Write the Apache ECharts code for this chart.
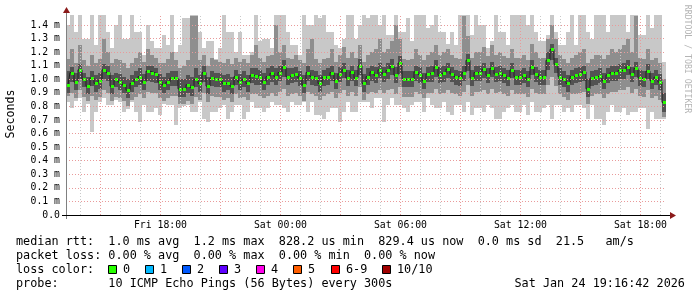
<!DOCTYPE html>
<html><head><meta charset="utf-8">
<script src="https://cdn.jsdelivr.net/npm/echarts@6/dist/echarts.min.js"></script>
<style>html,body{margin:0;padding:0;background:#fff}#c{width:697px;height:297px}</style>
</head><body><div id="c"></div>
<script>
// ---- time frame (hours counted from Fri 00:00) ----
const startHour = 13 + 16/60 + 42/3600;   // Fri 13:16:42
const spanHours = 30;
const stepHours = 0.2;

// ---- data (ms) ----
const median = [0.96,1.05,0.98,1.07,1.00,0.95,1.01,0.97,0.99,1.07,
 1.05,0.95,1.00,0.98,0.96,0.92,0.97,1.00,1.02,0.98,
 1.06,1.05,1.04,0.98,0.96,0.98,1.01,1.01,0.93,0.93,
 0.96,0.94,1.00,0.97,1.05,0.95,1.01,1.00,1.00,0.97,
 0.975,0.95,1.02,0.98,1.00,0.97,1.03,1.025,1.02,0.98,
 1.02,1.045,1.02,1.05,1.09,1.02,1.03,1.04,1.01,0.96,
 1.05,1.02,1.01,0.97,1.015,1.02,1.05,0.99,1.04,1.07,
 1.01,1.055,1.01,1.10,0.97,1.02,1.055,1.03,1.07,1.04,
 1.065,1.10,1.03,1.12,1.00,1.00,1.00,1.055,1.035,0.99,
 1.04,1.045,1.09,1.03,1.045,1.075,1.04,1.02,1.01,1.05,
 1.14,1.01,1.05,1.05,1.075,1.03,1.08,1.04,1.05,1.03,
 1.01,1.07,1.02,1.02,1.03,1.00,1.09,1.04,1.02,1.02,
 1.14,1.22,1.11,1.02,1.00,0.97,1.02,1.03,1.04,1.055,
 0.93,1.01,1.02,1.026,0.99,1.033,1.05,1.05,1.065,1.065,
 1.09,1.04,1.08,1.01,1.00,1.06,0.99,1.016,0.98,0.83];

const outerHigh = [1.40,1.474,1.35,1.474,1.30,1.30,1.474,1.25,1.474,1.474,
 1.35,1.23,1.40,1.474,1.30,1.30,1.474,1.35,1.35,1.18,
 1.40,1.28,1.23,1.23,1.33,1.25,1.474,1.20,1.25,1.45,
 1.45,1.474,1.474,1.35,1.23,1.28,1.28,1.15,1.23,1.474,
 1.35,1.35,1.20,1.35,1.18,1.18,1.20,1.474,1.28,1.30,
 1.30,1.23,1.474,1.474,1.474,1.35,1.25,1.25,1.18,1.474,
 1.40,1.40,1.474,1.45,1.474,1.35,1.35,1.25,1.23,1.30,
 1.474,1.474,1.30,1.40,1.474,1.45,1.474,1.474,1.40,1.474,
 1.33,1.33,1.474,1.35,1.35,1.45,1.28,1.474,1.474,1.474,
 1.38,1.40,1.474,1.35,1.35,1.26,1.35,1.25,1.474,1.474,
 1.474,1.33,1.474,1.40,1.40,1.23,1.28,1.474,1.35,1.35,
 1.25,1.474,1.474,1.474,1.474,1.40,1.474,1.35,1.28,1.28,
 1.33,1.474,1.35,1.25,1.25,1.35,1.474,1.25,1.474,1.474,
 1.35,1.30,1.474,1.474,1.474,1.35,1.474,1.474,1.474,1.474,
 1.35,1.474,1.474,1.33,1.33,1.474,1.38,1.474,1.474,1.13];

const outerLow = [0.834,0.785,0.84,0.86,0.76,0.82,0.613,0.76,0.834,0.859,
 0.81,0.81,0.85,0.834,0.76,0.78,0.83,0.76,0.686,0.81,
 0.76,0.76,0.785,0.736,0.82,0.81,0.81,0.662,0.785,0.80,
 0.81,0.76,0.76,0.834,0.711,0.686,0.76,0.76,0.785,0.81,
 0.711,0.76,0.81,0.81,0.711,0.76,0.834,0.785,0.785,0.76,
 0.785,0.834,0.81,0.81,0.785,0.76,0.834,0.81,0.81,0.834,
 0.76,0.834,0.736,0.736,0.711,0.76,0.785,0.785,0.686,0.76,
 0.834,0.76,0.76,0.834,0.83,0.834,0.785,0.859,0.859,0.686,
 0.81,0.859,0.81,0.81,0.785,0.76,0.81,0.834,0.834,0.76,
 0.859,0.81,0.785,0.785,0.834,0.76,0.736,0.81,0.81,0.76,
 0.834,0.736,0.785,0.785,0.76,0.81,0.785,0.711,0.711,0.76,
 0.785,0.81,0.76,0.76,0.81,0.736,0.834,0.76,0.76,0.785,
 0.81,0.711,0.81,0.81,0.76,0.785,0.76,0.81,0.81,0.785,
 0.711,0.81,0.711,0.711,0.662,0.76,0.81,0.76,0.76,0.785,
 0.736,0.76,0.76,0.785,0.785,0.637,0.76,0.711,0.711,0.711];

const midHigh = [1.15,1.22,1.12,1.25,1.14,1.10,1.18,1.12,1.15,1.30,
 1.20,1.12,1.15,1.14,1.12,1.08,1.12,1.16,1.20,1.13,
 1.22,1.18,1.16,1.12,1.12,1.15,1.20,1.14,1.08,1.10,
 1.14,1.47,1.47,1.14,1.18,1.10,1.16,1.14,1.13,1.12,
 1.15,1.11,1.16,1.13,1.15,1.12,1.18,1.25,1.16,1.13,
 1.17,1.18,1.40,1.20,1.25,1.16,1.15,1.18,1.14,1.12,
 1.22,1.30,1.15,1.12,1.15,1.16,1.22,1.13,1.18,1.24,
 1.16,1.20,1.16,1.25,1.13,1.18,1.20,1.22,1.30,1.20,
 1.22,1.28,1.40,1.30,1.15,1.14,1.15,1.22,1.18,1.14,
 1.18,1.20,1.25,1.18,1.20,1.22,1.18,1.16,1.15,1.47,
 1.32,1.16,1.20,1.20,1.24,1.17,1.25,1.18,1.20,1.17,
 1.16,1.22,1.16,1.16,1.18,1.14,1.26,1.20,1.16,1.16,
 1.30,1.40,1.30,1.18,1.15,1.12,1.16,1.18,1.20,1.22,
 1.12,1.15,1.18,1.18,1.15,1.18,1.22,1.20,1.22,1.25,
 1.30,1.20,1.47,1.16,1.15,1.22,1.14,1.16,1.12,1.00];

const midLow = [0.88,0.90,0.86,0.92,0.87,0.84,0.88,0.85,0.87,0.92,
 0.90,0.84,0.87,0.86,0.84,0.80,0.85,0.87,0.89,0.86,
 0.91,0.90,0.90,0.86,0.84,0.86,0.88,0.88,0.82,0.82,
 0.84,0.82,0.87,0.85,0.90,0.83,0.88,0.87,0.87,0.85,
 0.86,0.83,0.89,0.86,0.87,0.85,0.89,0.89,0.88,0.86,
 0.88,0.90,0.88,0.91,0.93,0.88,0.89,0.90,0.88,0.84,
 0.91,0.89,0.88,0.85,0.88,0.89,0.91,0.86,0.90,0.92,
 0.88,0.91,0.88,0.94,0.85,0.89,0.91,0.90,0.92,0.90,
 0.92,0.93,0.89,0.94,0.87,0.87,0.87,0.91,0.89,0.86,
 0.90,0.90,0.93,0.89,0.90,0.92,0.90,0.89,0.88,0.91,
 0.96,0.88,0.91,0.91,0.92,0.89,0.93,0.90,0.91,0.89,
 0.88,0.92,0.89,0.89,0.89,0.87,0.93,0.90,0.89,0.89,
 0.96,1.02,0.95,0.89,0.87,0.85,0.89,0.89,0.90,0.91,
 0.82,0.88,0.89,0.89,0.86,0.89,0.91,0.91,0.92,0.92,
 0.94,0.90,0.93,0.88,0.87,0.92,0.86,0.88,0.85,0.72];

const innerHigh = [1.06,1.09,1.05,1.11,1.05,1.02,1.06,1.03,1.05,1.11,
 1.10,1.03,1.05,1.04,1.02,1.00,1.03,1.06,1.08,1.04,
 1.10,1.10,1.08,1.04,1.02,1.05,1.06,1.06,1.00,1.00,
 1.03,1.02,1.08,1.03,1.10,1.02,1.06,1.05,1.05,1.03,
 1.04,1.02,1.07,1.04,1.06,1.03,1.08,1.08,1.07,1.05,
 1.08,1.10,1.08,1.10,1.14,1.08,1.08,1.09,1.06,1.03,
 1.10,1.07,1.06,1.03,1.07,1.08,1.10,1.05,1.09,1.12,
 1.07,1.10,1.07,1.15,1.04,1.08,1.10,1.09,1.12,1.09,
 1.12,1.15,1.09,1.17,1.06,1.06,1.06,1.10,1.09,1.05,
 1.09,1.10,1.14,1.09,1.10,1.12,1.09,1.07,1.06,1.10,
 1.19,1.07,1.10,1.10,1.12,1.08,1.13,1.09,1.10,1.08,
 1.07,1.12,1.07,1.07,1.08,1.06,1.14,1.09,1.07,1.07,
 1.20,1.26,1.16,1.08,1.06,1.03,1.07,1.08,1.09,1.10,
 1.00,1.06,1.07,1.08,1.05,1.08,1.10,1.10,1.11,1.12,
 1.14,1.09,1.13,1.07,1.06,1.11,1.05,1.07,1.04,0.90];

const innerLow = [0.90,0.98,0.92,1.00,0.94,0.89,0.95,0.91,0.93,1.00,
 0.99,0.89,0.94,0.92,0.90,0.86,0.91,0.94,0.96,0.92,
 0.99,0.98,0.97,0.92,0.90,0.92,0.95,0.95,0.87,0.87,
 0.90,0.88,0.94,0.91,0.98,0.89,0.95,0.94,0.94,0.91,
 0.92,0.89,0.96,0.92,0.94,0.91,0.97,0.96,0.96,0.92,
 0.96,0.98,0.96,0.99,1.02,0.96,0.97,0.98,0.95,0.90,
 0.99,0.96,0.95,0.91,0.95,0.96,0.99,0.93,0.98,1.01,
 0.95,0.99,0.95,1.03,0.91,0.96,0.99,0.97,1.01,0.98,
 1.00,1.03,0.97,1.04,0.94,0.94,0.94,0.99,0.97,0.93,
 0.98,0.98,1.02,0.97,0.98,1.01,0.98,0.96,0.95,0.99,
 1.06,0.95,0.99,0.99,1.01,0.97,1.02,0.98,0.99,0.97,
 0.95,1.01,0.96,0.96,0.97,0.94,1.03,0.98,0.96,0.96,
 1.07,1.14,1.05,0.96,0.94,0.91,0.96,0.97,0.98,0.99,
 0.87,0.95,0.96,0.97,0.93,0.97,0.99,0.99,1.00,1.00,
 1.03,0.98,1.02,0.95,0.94,1.00,0.93,0.96,0.92,0.76];

// ---- tick labels ----
const xTickValues = [18, 24, 30, 36, 42];
const xTickLabels = ['Fri 18:00', 'Sat 00:00', 'Sat 06:00', 'Sat 12:00', 'Sat 18:00'];
const yTickValues = [0,0.1,0.2,0.3,0.4,0.5,0.6,0.7,0.8,0.9,1.0,1.1,1.2,1.3,1.4];
const yTickLabels = ['0.0','0.1 m','0.2 m','0.3 m','0.4 m','0.5 m','0.6 m','0.7 m','0.8 m','0.9 m','1.0 m','1.1 m','1.2 m','1.3 m','1.4 m'];
const yMax = 1.474;

// ---- legend texts ----
const legendRows = [
  'median rtt:  1.0 ms avg  1.2 ms max  828.2 us min  829.4 us now  0.0 ms sd  21.5   am/s',
  'packet loss: 0.00 % avg  0.00 % max  0.00 % min  0.00 % now',
  'loss color:',
  'probe:       10 ICMP Echo Pings (56 Bytes) every 300s'
];
const stampText = 'Sat Jan 24 19:16:42 2026';
const lossLabels = ['0', '1', '2', '3', '4', '5', '6-9', '10/10'];
const lossColors = ['#26ff00', '#00b8ff', '#0059ff', '#5e00ff', '#ff00ea', '#ff5e00', '#ff0000', '#a00000'];

// ---- build ----
const endHour = startHour + spanHours;
const HALF = stepHours / 2;
const times = median.map((_, i) => startHour + (i + 0.5) * stepHours);
const smokeRows = times.map((t, i) => [t, outerLow[i], outerHigh[i], midLow[i], midHigh[i], innerLow[i], innerHigh[i]]);
const medRows = times.map((t, i) => [t, median[i]]);

const GL = 66, GT = 15, GW = 600, GH = 200;
const FONT = 'DejaVu Sans Mono';

function band(api, t, lo, hi, fill) {
  const a = api.coord([t - HALF, hi]);
  const b = api.coord([t + HALF, lo]);
  const x0 = Math.round(a[0]), x1 = Math.round(b[0]);
  const y0 = Math.round(a[1]), y1 = Math.round(b[1]);
  return { type: 'rect', shape: { x: x0, y: y0, width: x1 - x0, height: Math.max(1, y1 - y0) }, style: { fill: fill } };
}

const gridLines = [];
for (let h = Math.ceil(startHour); h <= Math.floor(endHour); h++) {
  gridLines.push({ xAxis: h, lineStyle: { color: h % 3 === 0 ? '#e99a9a' : '#c8c8c8', type: [1, 2], width: 1 } });
}
yTickValues.forEach(v => { if (v > 0) gridLines.push({ yAxis: v, lineStyle: { color: '#e99a9a', type: [1, 2], width: 1 } }); });

const graphic = [
  { type: 'line', shape: { x1: GL + 0.5, y1: GT + GH + 4, x2: GL + 0.5, y2: GT - 4 }, style: { stroke: '#808080', lineWidth: 1 }, z: 100 },
  { type: 'line', shape: { x1: GL - 4, y1: GT + GH + 0.5, x2: GL + GW + 4, y2: GT + GH + 0.5 }, style: { stroke: '#000', lineWidth: 1 }, z: 100 },
  { type: 'polygon', shape: { points: [[GL + 0.5, GT - 8], [GL - 3, GT - 2], [GL + 4, GT - 2]] }, style: { fill: '#8b1a1a' }, z: 101 },
  { type: 'polygon', shape: { points: [[GL + GW + 10, GT + GH + 0.5], [GL + GW + 4, GT + GH - 3], [GL + GW + 4, GT + GH + 4]] }, style: { fill: '#8b1a1a' }, z: 101 },
  { type: 'text', x: 11, y: 114, rotation: Math.PI / 2, style: { text: 'Seconds', font: '11.6px ' + FONT, fill: '#000', align: 'center', verticalAlign: 'middle', textAlign: 'center', textVerticalAlign: 'middle' } },
  { type: 'text', x: 687, y: 59, rotation: -Math.PI / 2, style: { text: 'RRDTOOL / TOBI OETIKER', font: '8.2px ' + FONT, fill: '#b4b4b4', align: 'center', verticalAlign: 'middle', textAlign: 'center', textVerticalAlign: 'middle' } }
];
const rowY = [241.7, 255.9, 270, 284];
legendRows.forEach((txt, i) => {
  graphic.push({ type: 'text', x: 16, y: rowY[i], style: { text: txt, font: '11.8px ' + FONT, fill: '#000', align: 'left', verticalAlign: 'middle', textAlign: 'left', textVerticalAlign: 'middle' } });
});
graphic.push({ type: 'text', x: 514.5, y: rowY[3], style: { text: stampText, font: '11.8px ' + FONT, fill: '#000', align: 'left', verticalAlign: 'middle', textAlign: 'left', textVerticalAlign: 'middle' } });
const squareX = [108.5, 145.5, 182.5, 219.5, 256.5, 293.5, 331.5, 382.5];
lossLabels.forEach((lab, i) => {
  graphic.push({ type: 'rect', shape: { x: squareX[i], y: 265.5, width: 8, height: 8 }, style: { fill: lossColors[i], stroke: '#000', lineWidth: 1 } });
  graphic.push({ type: 'text', x: squareX[i] + 14.5, y: rowY[2], style: { text: lab, font: '11.8px ' + FONT, fill: '#000', align: 'left', verticalAlign: 'middle', textAlign: 'left', textVerticalAlign: 'middle' } });
});

const chart = echarts.init(document.getElementById('c'), null, { renderer: 'canvas' });
chart.setOption({
  animation: false,
  backgroundColor: '#fff',
  grid: { left: GL, top: GT, width: GW, height: GH, containLabel: false },
  xAxis: {
    type: 'value', min: startHour, max: endHour,
    axisLine: { show: false },
    splitLine: { show: false },
    axisTick: { show: false },
    axisLabel: {
      customValues: xTickValues,
      formatter: v => { const k = xTickValues.indexOf(v); return k >= 0 ? xTickLabels[k] : ''; },
      fontFamily: FONT, fontSize: 9.8, color: '#000', margin: 5
    }
  },
  yAxis: {
    type: 'value', min: 0, max: yMax,
    axisLine: { show: false },
    splitLine: { show: false },
    axisTick: { show: false },
    axisLabel: {
      customValues: yTickValues,
      formatter: v => { const k = Math.round(v * 10); return yTickLabels[k] !== undefined ? yTickLabels[k] : ''; },
      fontFamily: FONT, fontSize: 9.8, color: '#000', margin: 6
    }
  },
  graphic: graphic,
  series: [
    {
      type: 'custom', z: 1, clip: true, silent: true,
      data: smokeRows,
      encode: { x: 0, y: [1, 2] },
      renderItem: (params, api) => {
        const t = api.value(0);
        return { type: 'group', children: [
          band(api, t, api.value(1), api.value(2), '#c8c8c8'),
          band(api, t, api.value(3), api.value(4), '#8e8e8e'),
          band(api, t, api.value(5), api.value(6), '#525252')
        ] };
      }
    },
    {
      type: 'line', z: 2, silent: true, data: medRows, symbol: 'none',
      lineStyle: { opacity: 0 },
      markLine: { silent: true, symbol: ['none', 'none'], label: { show: false }, animation: false, data: gridLines }
    },
    {
      type: 'line', z: 3, silent: true, data: medRows, step: 'middle', symbol: 'none',
      lineStyle: { color: '#202020', width: 1 }
    },
    {
      type: 'custom', z: 4, clip: true, silent: true,
      data: medRows,
      encode: { x: 0, y: 1 },
      renderItem: (params, api) => {
        const c = api.coord([api.value(0), api.value(1)]);
        const xc = Math.round(c[0]);
        const yc = Math.round(c[1]);
        return { type: 'rect', shape: { x: xc - 1, y: yc - 1, width: 3, height: 3 }, style: { fill: lossColors[0] } };
      }
    }
  ]
});
</script>
</body></html>
